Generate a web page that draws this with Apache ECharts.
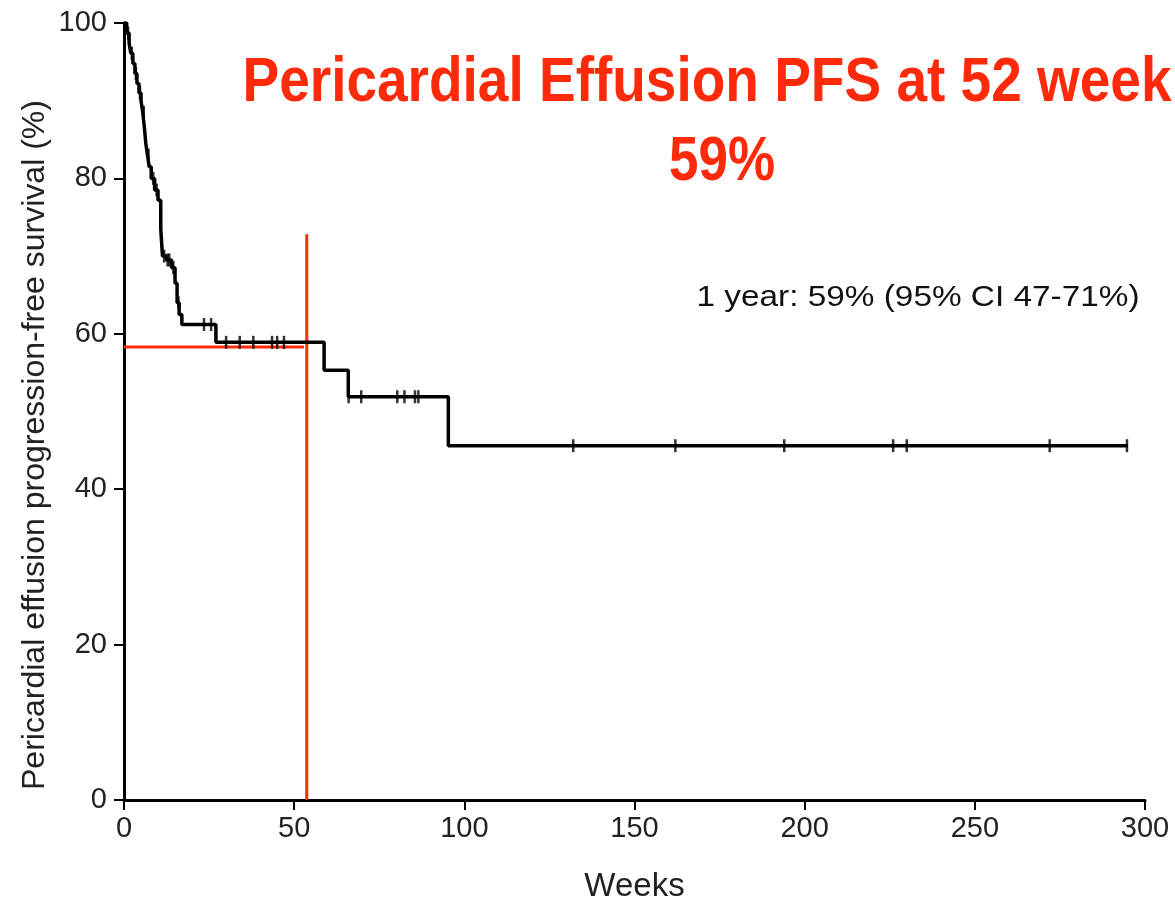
<!DOCTYPE html>
<html><head><meta charset="utf-8">
<script src="https://cdn.jsdelivr.net/npm/echarts@6/dist/echarts.min.js"></script>
<style>html,body{margin:0;padding:0;background:#fff}#c{width:1175px;height:908px}</style>
</head><body><div id="c"></div>
<script>
// Kaplan-Meier step data (weeks, survival % after event)
const eventWeeks = [0, 0.8, 1.5, 2, 2.6, 3.2, 3.8, 4.4, 5, 5.5, 6, 6.4, 6.9, 7.4, 8, 9, 10, 10.8, 11.3, 12.5, 14, 15, 15.6, 16.2, 17, 27, 58.8, 65.9, 95.3, 295];
const survival   = [100, 98.7, 97.4, 96.1, 94.8, 93.5, 92.2, 91, 90, 88.5, 86.5, 84.5, 83, 81.5, 80, 78.5, 77.2, 73.5, 70, 69.5, 68.5, 66.5, 64, 62.5, 61.2, 58.9, 55.3, 51.9, 45.6, 45.6];
const censorWeeks = [1.2, 2.3, 3.5, 4.7, 5.8, 7.2, 8.6, 9.6, 11.8, 12.8, 13.3, 14.5, 16, 23.5, 25.6, 30, 34, 38, 43.5, 45, 47, 66, 69.7, 80.3, 82.4, 85.5, 86.5, 132, 162, 194, 226, 230, 272, 294.7];
const refWeek = 53.7, refSurv = 58.3, refTop = 72.8;
const xTicks = {min: 0, max: 300, interval: 50};
const yTicks = {min: 0, max: 100, interval: 20};
const xName = 'Weeks';
const yName = 'Pericardial effusion progression-free survival (%)';
const titleLine1 = 'Pericardial Effusion PFS at 52 week';
const titleLine2 = '59%';
const noteText = '1 year: 59% (95% CI 47-71%)';

function survAt(t){ let s = survival[0]; for (let i=0;i<eventWeeks.length;i++){ if (eventWeeks[i] <= t) s = survival[i]; } return s; }
const cv = document.createElement('canvas').getContext('2d');
function fit(text, font, target){ cv.font = font; return target / cv.measureText(text).width; }

const titleFont = 'bold 63px "Liberation Sans", Arial, sans-serif';
const noteFont = '29px "Liberation Sans", Arial, sans-serif';
const yNameFont = '32px "Liberation Sans", Arial, sans-serif';
const font = 'Liberation Sans, Arial, sans-serif';

const chart = echarts.init(document.getElementById('c'));
chart.setOption({
  animation: false,
  backgroundColor: '#fff',
  grid: {left: 124, right: 30, top: 23, bottom: 106},
  xAxis: {type: 'value', min: xTicks.min, max: xTicks.max, interval: xTicks.interval,
    name: xName, nameLocation: 'middle', nameGap: 70,
    nameTextStyle: {fontFamily: font, fontSize: 33, color: '#222'},
    axisLine: {lineStyle: {color: '#000', width: 3}},
    axisTick: {length: 10, lineStyle: {color: '#000', width: 2}},
    axisLabel: {fontFamily: font, fontSize: 29, color: '#222', margin: 14},
    splitLine: {show: false}},
  yAxis: {type: 'value', min: yTicks.min, max: yTicks.max, interval: yTicks.interval,
    axisLine: {lineStyle: {color: '#000', width: 3}},
    axisTick: {length: 10, lineStyle: {color: '#000', width: 2}},
    axisLabel: {fontFamily: font, fontSize: 29, color: '#222', margin: 17},
    splitLine: {show: false}},
  graphic: [
    {type: 'text', x: 707, y: 84, scaleX: fit(titleLine1, titleFont, 929),
      style: {text: titleLine1, font: titleFont, fill: '#ff2a0a', align: 'center', verticalAlign: 'middle'}},
    {type: 'text', x: 722, y: 163, scaleX: fit(titleLine2, titleFont, 106),
      style: {text: titleLine2, font: titleFont, fill: '#ff2a0a', align: 'center', verticalAlign: 'middle'}},
    {type: 'text', x: 918, y: 298, scaleX: fit(noteText, noteFont, 443),
      style: {text: noteText, font: noteFont, fill: '#111', align: 'center', verticalAlign: 'middle'}},
    {type: 'text', x: 35, y: 445, rotation: Math.PI/2, scaleX: fit(yName, yNameFont, 690),
      style: {text: yName, font: yNameFont, fill: '#222', align: 'center', verticalAlign: 'middle'}}
  ],
  series: [
    {type: 'line', step: 'end', showSymbol: false, z: 3,
      lineStyle: {color: '#000', width: 3.5},
      data: eventWeeks.map((t,i)=>[t, survival[i]])},
    {type: 'scatter', symbol: 'rect', symbolSize: [2.5, 13], z: 4,
      itemStyle: {color: '#000'},
      data: censorWeeks.map(t=>[t, survAt(t)])},
    {type: 'line', showSymbol: false, z: 2, lineStyle: {color: '#ff2a0a', width: 3},
      data: [[0, refSurv], [refWeek - 0.8, refSurv]]},
    {type: 'line', showSymbol: false, z: 2, lineStyle: {color: '#ff2a0a', width: 3},
      data: [[refWeek, 0], [refWeek, refTop]]}
  ]
});
</script></body></html>
